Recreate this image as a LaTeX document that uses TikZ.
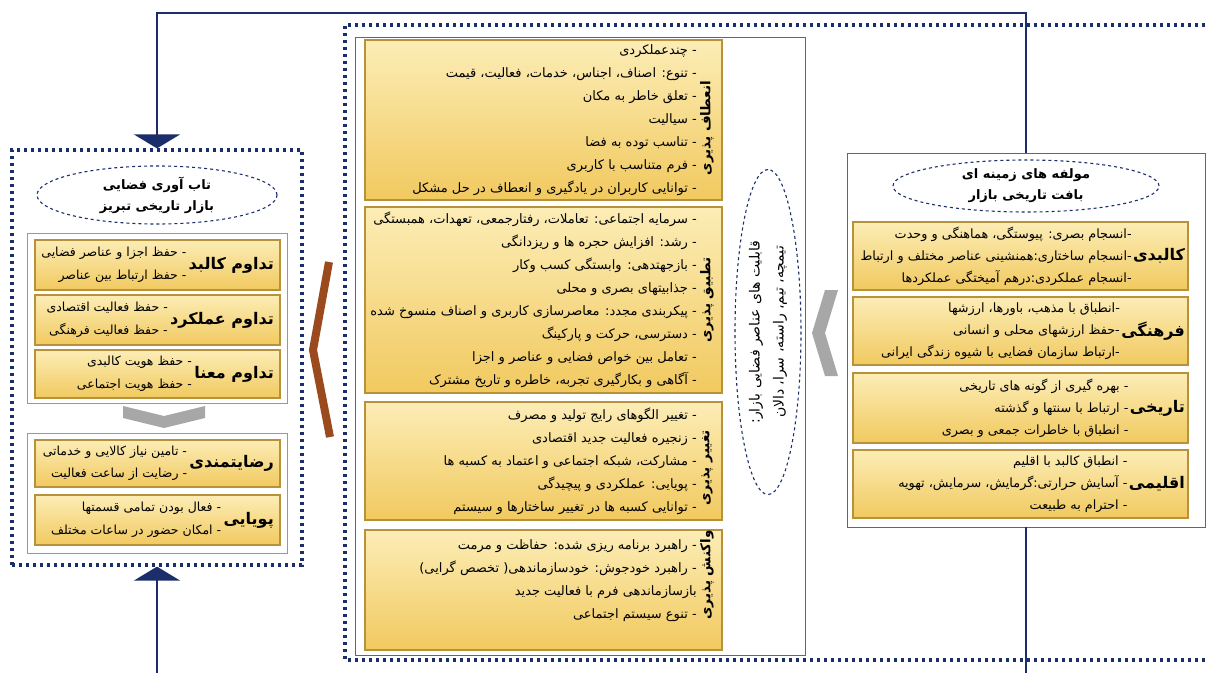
\documentclass[tikz,border=0pt]{standalone}
\usepackage{fontspec}
\newfontfamily\farsi[Script=Arabic]{DejaVu Sans}
\TeXXeTstate=1
\usetikzlibrary{positioning,shapes.geometric,arrows.meta,shadows}
\newcommand{\fa}[1]{\beginR#1\endR}
\definecolor{navy}{HTML}{1C2D6B}
\definecolor{framegrey}{HTML}{8E99AB}
\definecolor{frameblue}{HTML}{4A6A9E}
\definecolor{goldedge}{HTML}{B8923A}
\definecolor{goldtop}{HTML}{FCEDB6}
\definecolor{goldbot}{HTML}{F1C95F}
\definecolor{chevgrey}{HTML}{A7A7A7}
\definecolor{bracketbrown}{HTML}{9A4A1C}
\tikzset{
	goldbox/.style={draw=goldedge, line width=1.3pt, top color=goldtop, bottom color=goldbot, drop shadow={shadow xshift=1.2pt, shadow yshift=-1.2pt, opacity=.35}},
	dotframe/.style={draw=navy, line width=3.2pt, dash pattern=on 3.2pt off 3.8pt},
	thinframe/.style={draw=#1, line width=.8pt},
	headoval/.style={ellipse, draw=navy, dashed, line width=1.1pt, align=center, inner sep=0pt, font=\farsi\bfseries\fontsize{13}{21}\selectfont},
	lst/.style={align=right, inner sep=0pt, font=\farsi\fontsize{13}{23}\selectfont},
	sidelst/.style={align=right, inner sep=0pt, font=\farsi\fontsize{12.5}{22.5}\selectfont},
	ctxlst/.style={align=right, inner sep=0pt, font=\farsi\fontsize{12.8}{22}\selectfont},
	ttl/.style={inner sep=0pt, font=\farsi\bfseries\fontsize{16}{18}\selectfont},
	sidettl/.style={inner sep=0pt, rotate=90, font=\farsi\bfseries\fontsize{13.5}{16}\selectfont},
	link/.style={draw=navy, line width=2pt},
	bigtip/.style={-{Triangle[width=46pt,length=14pt]}}
}
\begin{document}
\begin{tikzpicture}[x=1pt, y=-1pt]
	\useasboundingbox (0,0) rectangle (1207,672);
	% frames
	\draw[dotframe] (1212,25) -- (345,25) -- (345,660) -- (1212,660);
	\node[thinframe=frameblue, minimum width=450, minimum height=618] (capinner) at (580,346) {};
	\node[dotframe, minimum width=290, minimum height=415] (resil) at (157,357.5) {};
	\node[thinframe=framegrey, minimum width=260, minimum height=170] (contframe) at (157,318) {};
	\node[thinframe=framegrey, minimum width=260, minimum height=120] (satframe) at (157,493) {};
	\node[thinframe=frameblue, fill=white, minimum width=358, minimum height=374] (ctx) at (1026,340) {};
	% links
	\coordinate (topturn) at (157,13);
	\coordinate (botfoot) at (157,680);
	\coordinate (ctxfoot) at (1026,680);
	\draw[link, bigtip] (ctx.north) |- (topturn) -- (resil.north);
	\draw[link, bigtip] (botfoot) -- (resil.south);
	\draw[link] (ctx.south) -- (ctxfoot);
	% left column
	\node[headoval, minimum width=240, minimum height=58] (resilhead) at (157,195) {\fa{تاب آوری فضایی}\\\fa{بازار تاریخی تبریز}};
	\node[goldbox, minimum width=245, minimum height=50] (body) at (157.5,265) {};
	\node[ttl, anchor=east] (bodyt) at (274,265) {\fa{تداوم کالبد}};
	\node[sidelst, left=2pt of bodyt] {\fa{- حفظ اجزا و عناصر فضایی}\\\fa{- حفظ ارتباط بین عناصر}};
	\node[goldbox, minimum width=245, minimum height=50] (func) at (157.5,320) {};
	\node[ttl, anchor=east] (funct) at (274,320) {\fa{تداوم عملکرد}};
	\node[sidelst, left=2pt of funct] {\fa{- حفظ فعالیت اقتصادی}\\\fa{- حفظ فعالیت فرهنگی}};
	\node[goldbox, minimum width=245, minimum height=48] (mean) at (157.5,374) {};
	\node[ttl, anchor=east] (meant) at (274,374) {\fa{تداوم معنا}};
	\node[sidelst, left=2pt of meant] {\fa{- حفظ هویت کالبدی}\\\fa{- حفظ هویت اجتماعی}};
	\fill[chevgrey] (123,406) -- (164,416) -- (205,406) -- (205,418) -- (164,428) -- (123,418) -- cycle;
	\node[goldbox, minimum width=245, minimum height=47] (satis) at (157.5,463.5) {};
	\node[ttl, anchor=east] (satist) at (274,463.5) {\fa{رضایتمندی}};
	\node[sidelst, left=2pt of satist] {\fa{- تامین نیاز کالایی و خدماتی}\\\fa{- رضایت از ساعت فعالیت}};
	\node[goldbox, minimum width=245, minimum height=50] (dyn) at (157.5,520) {};
	\node[ttl, anchor=east] (dynt) at (274,520) {\fa{پویایی}};
	\node[sidelst, left=2pt of dynt] {\fa{- فعال بودن تمامی قسمتها}\\\fa{- امکان حضور در ساعات مختلف}};
	\draw[bracketbrown, line width=8pt, line join=miter] (329,262) -- (313,350) -- (330,437);
	% central column
	\node[goldbox, minimum width=357, minimum height=160] (flex) at (543.5,120) {};
	\node[sidettl] at (707,128) {\fa{انعطاف پذیری}};
	\node[lst, anchor=east] (flexlist) at (697,120) {\fa{- چندعملکردی}\\\fa{- تنوع: اصناف، اجناس، خدمات، فعالیت، قیمت}\\\fa{- تعلق خاطر به مکان}\\\fa{- سیالیت}\\\fa{- تناسب توده به فضا}\\\fa{- فرم متناسب با کاربری}\\\fa{- توانایی کاربران در یادگیری و انعطاف در حل مشکل}};
	\node[goldbox, minimum width=357, minimum height=186] (adapt) at (543.5,300) {};
	\node[sidettl] at (707,300) {\fa{تطبیق پذیری}};
	\node[lst, anchor=east] (adaptlist) at (697,300) {\fa{- سرمایه اجتماعی: تعاملات، رفتارجمعی، تعهدات، همبستگی}\\\fa{- رشد: افزایش حجره ها و ریزدانگی}\\\fa{- بازجهتدهی: وابستگی کسب وکار}\\\fa{- جذابیتهای بصری و محلی}\\\fa{- پیکربندی مجدد: معاصرسازی کاربری و اصناف منسوخ شده}\\\fa{- دسترسی، حرکت و پارکینگ}\\\fa{- تعامل بین خواص فضایی و عناصر و اجزا}\\\fa{- آگاهی و بکارگیری تجربه، خاطره و تاریخ مشترک}};
	\node[goldbox, minimum width=357, minimum height=118] (change) at (543.5,461) {};
	\node[sidettl] at (707,468) {\fa{تغییر پذیری}};
	\node[lst, anchor=east] (changelist) at (697,461) {\fa{- تغییر الگوهای رایج تولید و مصرف}\\\fa{- زنجیره فعالیت جدید اقتصادی}\\\fa{- مشارکت، شبکه اجتماعی و اعتماد به کسبه ها}\\\fa{- پویایی: عملکردی و پیچیدگی}\\\fa{- توانایی کسبه ها در تغییر ساختارها و سیستم}};
	\node[goldbox, minimum width=357, minimum height=120] (react) at (543.5,590) {};
	\node[sidettl] at (707,575) {\fa{واکنش پذیری}};
	\node[lst, anchor=east] (reactlist) at (697,581) {\fa{- راهبرد برنامه ریزی شده: حفاظت و مرمت}\\\fa{- راهبرد خودجوش: خودسازماندهی( تخصص گرایی)}\\\fa{بازسازماندهی فرم با فعالیت جدید}\\\fa{- تنوع سیستم اجتماعی}};
	\node[headoval, rotate=90, minimum width=325, minimum height=66, font=\farsi\fontsize{14}{24}\selectfont] (caphead) at (768,332) {\fa{قابلیت های عناصر فضایی بازار:}\\\fa{تیمچه، تیم، راسته، سرا، دالان}};
	\fill[chevgrey] (825,290) -- (838,290) -- (825,333) -- (838,376) -- (825,376) -- (812,333) -- cycle;
	% right column
	\node[headoval, minimum width=266, minimum height=52] (ctxhead) at (1026,186) {\fa{مولفه های زمینه ای}\\\fa{بافت تاریخی بازار}};
	\node[goldbox, minimum width=335, minimum height=68] (phys) at (1020.5,256) {};
	\node[ttl, anchor=east] (physt) at (1185,256) {\fa{کالبدی}};
	\node[ctxlst, left=1pt of physt] {\fa{-انسجام بصری: پیوستگی، هماهنگی و وحدت}\\\fa{-انسجام ساختاری:همنشینی عناصر مختلف و ارتباط}\\\fa{-انسجام عملکردی:درهم آمیختگی عملکردها}};
	\node[goldbox, minimum width=335, minimum height=68] (cult) at (1020.5,331) {};
	\node[ttl, anchor=east] (cultt) at (1185,331) {\fa{فرهنگی}};
	\node[ctxlst, left=1pt of cultt] {\fa{-انطباق با مذهب، باورها، ارزشها}\\\fa{-حفظ ارزشهای محلی و انسانی}\\\fa{-ارتباط سازمان فضایی با شیوه زندگی ایرانی}};
	\node[goldbox, minimum width=335, minimum height=70] (hist) at (1020.5,408) {};
	\node[ttl, anchor=east] (histt) at (1185,408) {\fa{تاریخی}};
	\node[ctxlst, left=1pt of histt] {\fa{- بهره گیری از گونه های تاریخی}\\\fa{- ارتباط با سنتها و گذشته}\\\fa{- انطباق با خاطرات جمعی و بصری}};
	\node[goldbox, minimum width=335, minimum height=68] (clim) at (1020.5,484) {};
	\node[ttl, anchor=east] (climt) at (1185,484) {\fa{اقلیمی}};
	\node[ctxlst, left=1pt of climt] {\fa{- انطباق کالبد با اقلیم}\\\fa{- آسایش حرارتی:گرمایش، سرمایش، تهویه}\\\fa{- احترام به طبیعت}};
\end{tikzpicture}
\end{document}
